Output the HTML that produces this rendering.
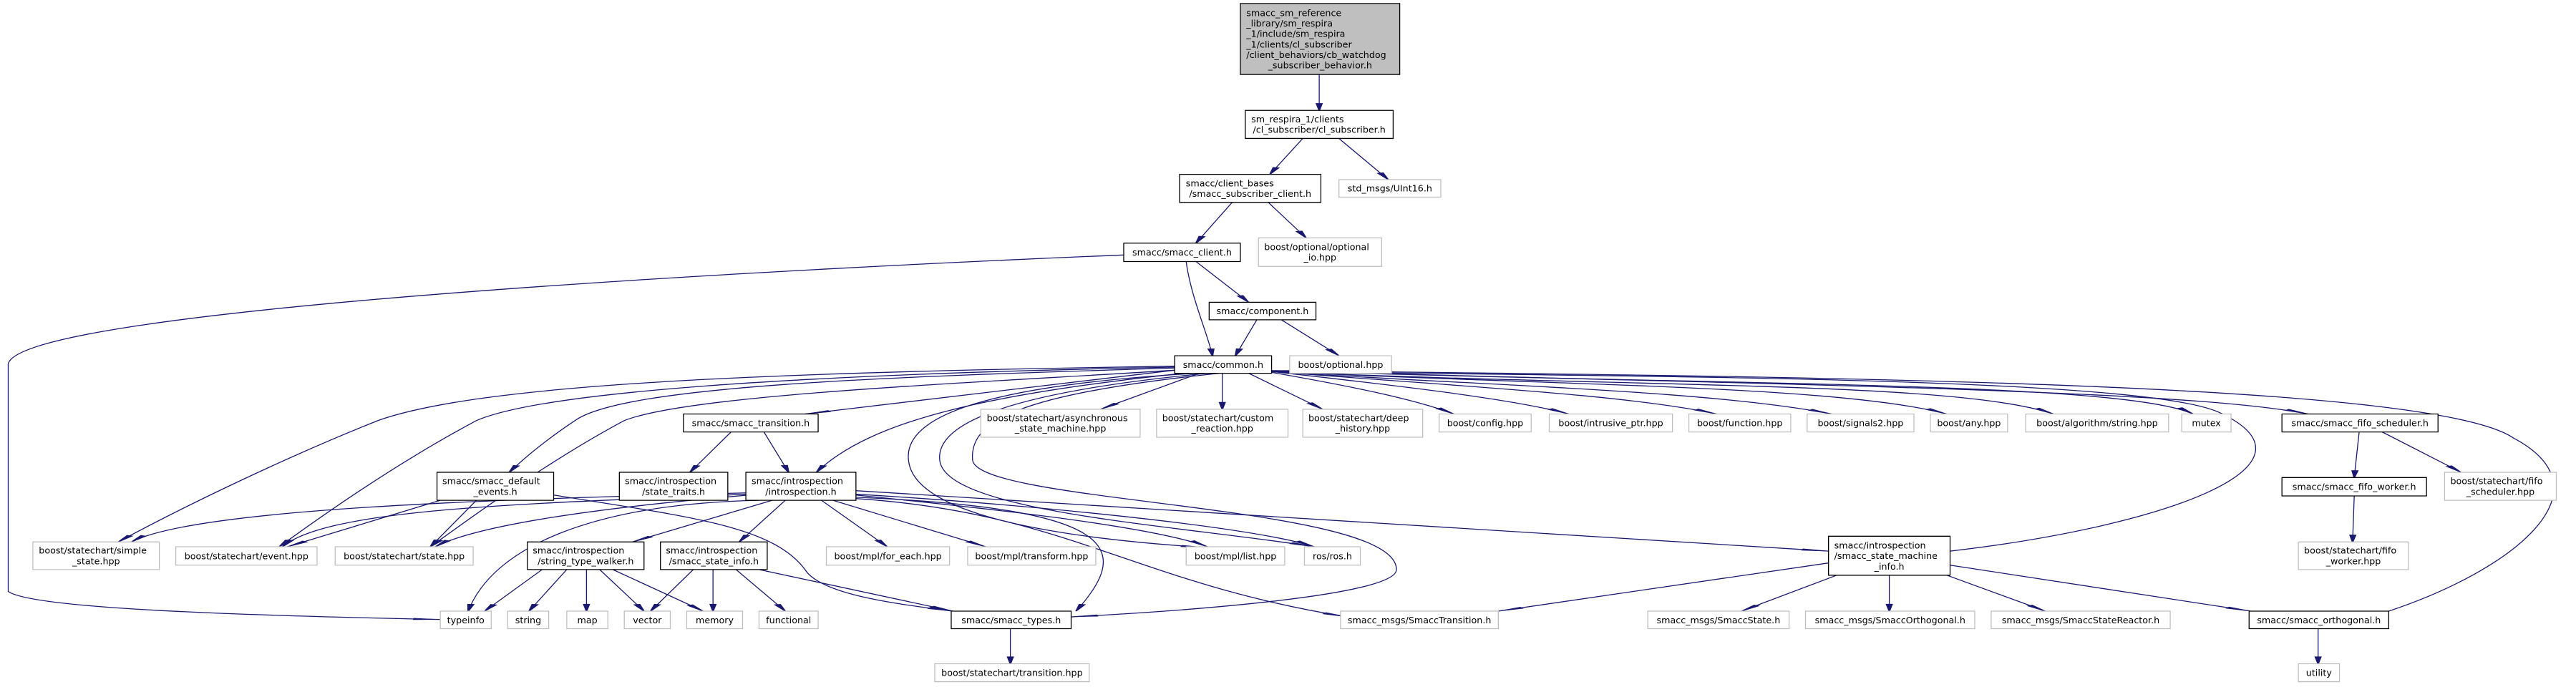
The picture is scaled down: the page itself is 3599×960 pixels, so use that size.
<!DOCTYPE html>
<html><head><meta charset="utf-8"><style>
html,body{margin:0;padding:0;background:#fff;width:3599px;height:960px;overflow:hidden}
svg{display:block}
text{font-family:"DejaVu Sans","Liberation Sans",sans-serif;font-size:12.7px;fill:#000}
.b{fill:#fff;stroke:#000;stroke-width:1.3}
.g{fill:#fff;stroke:#bfbfbf;stroke-width:1.3}
.t{fill:#bfbfbf;stroke:#000;stroke-width:1.3}
.e{fill:none;stroke:#191970;stroke-width:1.3;marker-end:url(#a)}
rect,path{vector-effect:non-scaling-stroke}
</style></head><body>
<svg width="3599" height="960" viewBox="0 0 3599 960" xmlns="http://www.w3.org/2000/svg">
<defs><marker id="a" markerUnits="userSpaceOnUse" markerWidth="20" markerHeight="6" viewBox="0 -3 17 6" refX="16" refY="0" orient="auto" overflow="visible"><path d="M0,-1.7 L16,0 L0,1.7 z" fill="#191970" stroke="#191970"/></marker></defs>
<g transform="scale(2.2953,0.6122)">
<!-- edges -->
<path class="e" d="M803,170 L803,252"/>
<path class="e" d="M793,316 L773,398"/>
<path class="e" d="M815,316 L845,410"/>
<path class="e" d="M750,462 L728,555"/>
<path class="e" d="M772,462 L795,543"/>
<path class="e" d="M684,582 C500,610 15,700 5,830 L5,1350 C20,1390 150,1405 268,1414"/>
<path class="e" d="M722,597 C725,680 735,760 738,812"/>
<path class="e" d="M728,597 L760,690"/>
<path class="e" d="M765,730 L752,812"/>
<path class="e" d="M780,730 L815,812"/>
<path class="e" d="M715,836 C450,850 290,880 230,960 C170,1050 110,1160 72,1237"/>
<path class="e" d="M715,838 C480,855 330,895 290,960 C240,1060 195,1180 170,1248"/>
<path class="e" d="M715,840 C540,860 380,880 350,960 C330,1010 318,1050 310,1078"/>
<path class="e" d="M715,845 C590,875 420,900 380,960 C330,1060 280,1200 262,1248"/>
<path class="e" d="M715,845 L490,945"/>
<path class="e" d="M720,852 C600,900 530,960 497,1078"/>
<path class="e" d="M728,852 C600,880 550,950 553,1050 C556,1180 650,1230 735,1250"/>
<path class="e" d="M735,852 C600,900 570,980 572,1050 C575,1170 720,1200 800,1248"/>
<path class="e" d="M742,852 C620,900 590,960 592,1050 C595,1150 850,1150 850,1300 C850,1360 720,1395 652,1408"/>
<path class="e" d="M730,852 L670,934"/>
<path class="e" d="M744,852 L744,934"/>
<path class="e" d="M760,852 L805,934"/>
<path class="e" d="M774,850 C820,880 860,910 885,945"/>
<path class="e" d="M774,848 C850,880 920,910 955,945"/>
<path class="e" d="M774,848 C880,880 990,900 1045,945"/>
<path class="e" d="M774,848 C900,880 1040,890 1115,945"/>
<path class="e" d="M774,848 C950,880 1120,880 1185,945"/>
<path class="e" d="M774,848 C1000,885 1190,870 1250,945"/>
<path class="e" d="M774,846 C1050,880 1290,870 1335,945"/>
<path class="e" d="M774,846 C1100,880 1330,890 1405,945"/>
<path class="e" d="M1187,1258 C1320,1200 1420,1060 1350,940 C1300,860 1000,860 776,848"/>
<path class="e" d="M1454,1395 C1530,1300 1590,1120 1530,1000 C1480,870 1100,860 776,846"/>
<path class="e" d="M1436,986 L1433,1090"/>
<path class="e" d="M1450,986 L1498,1078"/>
<path class="e" d="M1433,1132 L1432,1237"/>
<path class="e" d="M1411,1435 L1411,1515"/>
<path class="e" d="M615,1435 L615,1515"/>
<path class="e" d="M445,986 L420,1078"/>
<path class="e" d="M465,986 L480,1078"/>
<path class="e" d="M454,1125 C300,1140 120,1160 80,1237"/>
<path class="e" d="M454,1128 C320,1150 200,1160 172,1248"/>
<path class="e" d="M456,1130 C360,1160 290,1200 265,1248"/>
<path class="e" d="M462,1142 C360,1150 300,1250 285,1395"/>
<path class="e" d="M470,1142 L385,1237"/>
<path class="e" d="M478,1142 L450,1237"/>
<path class="e" d="M500,1142 L540,1248"/>
<path class="e" d="M507,1142 L600,1248"/>
<path class="e" d="M521,1130 C600,1160 700,1200 735,1248"/>
<path class="e" d="M521,1128 C620,1150 760,1200 800,1248"/>
<path class="e" d="M521,1135 C680,1160 690,1250 655,1395"/>
<path class="e" d="M521,1138 C650,1170 690,1330 820,1408"/>
<path class="e" d="M521,1120 L1113,1258"/>
<path class="e" d="M268,1142 L175,1248"/>
<path class="e" d="M290,1142 L262,1248"/>
<path class="e" d="M337,1130 C420,1180 470,1200 490,1300 C500,1360 550,1380 580,1395"/>
<path class="e" d="M1113,1285 L912,1395"/>
<path class="e" d="M1118,1313 L1060,1395"/>
<path class="e" d="M1150,1313 L1150,1395"/>
<path class="e" d="M1185,1313 L1245,1395"/>
<path class="e" d="M1187,1290 L1370,1395"/>
<path class="e" d="M330,1300 L295,1395"/>
<path class="e" d="M345,1300 L322,1395"/>
<path class="e" d="M357,1300 L357,1395"/>
<path class="e" d="M365,1300 L392,1395"/>
<path class="e" d="M373,1300 L428,1395"/>
<path class="e" d="M422,1300 L396,1395"/>
<path class="e" d="M434,1300 L434,1395"/>
<path class="e" d="M448,1300 L478,1395"/>
<path class="e" d="M462,1300 L580,1395"/>
<!-- nodes -->
<rect class="t" x="755" y="8" width="97" height="162"/>
<rect class="b" x="758" y="252" width="90" height="64"/>
<rect class="b" x="718" y="398" width="86" height="64"/>
<rect class="g" x="815" y="410" width="62" height="40"/>
<rect class="b" x="684" y="555" width="71" height="42"/>
<rect class="g" x="766" y="543" width="75" height="65"/>
<rect class="b" x="736" y="690" width="65" height="40"/>
<rect class="b" x="715" y="812" width="59" height="40"/>
<rect class="g" x="785" y="812" width="62" height="40"/>
<rect class="b" x="416" y="945" width="82" height="41"/>
<rect class="g" x="597" y="934" width="97" height="64"/>
<rect class="g" x="704" y="934" width="80" height="64"/>
<rect class="g" x="793" y="934" width="73" height="64"/>
<rect class="g" x="876" y="945" width="56" height="41"/>
<rect class="g" x="943" y="945" width="75" height="41"/>
<rect class="g" x="1028" y="945" width="62" height="41"/>
<rect class="g" x="1100" y="945" width="65" height="41"/>
<rect class="g" x="1175" y="945" width="47" height="41"/>
<rect class="g" x="1233" y="945" width="87" height="41"/>
<rect class="g" x="1328" y="945" width="30" height="41"/>
<rect class="b" x="1389" y="945" width="95" height="41"/>
<rect class="b" x="266" y="1078" width="71" height="64"/>
<rect class="b" x="377" y="1078" width="66" height="64"/>
<rect class="b" x="454" y="1078" width="67" height="64"/>
<rect class="b" x="1389" y="1090" width="88" height="42"/>
<rect class="g" x="1488" y="1078" width="68" height="64"/>
<rect class="g" x="20" y="1237" width="77" height="63"/>
<rect class="g" x="107" y="1248" width="86" height="42"/>
<rect class="g" x="204" y="1248" width="84" height="42"/>
<rect class="b" x="321" y="1237" width="71" height="63"/>
<rect class="b" x="402" y="1237" width="65" height="63"/>
<rect class="g" x="503" y="1248" width="75" height="42"/>
<rect class="g" x="589" y="1248" width="78" height="42"/>
<rect class="g" x="722" y="1248" width="60" height="42"/>
<rect class="g" x="794" y="1248" width="34" height="42"/>
<rect class="b" x="1113" y="1224" width="74" height="89"/>
<rect class="g" x="1399" y="1237" width="67" height="63"/>
<rect class="g" x="268" y="1395" width="31" height="40"/>
<rect class="g" x="309" y="1395" width="25" height="40"/>
<rect class="g" x="345" y="1395" width="25" height="40"/>
<rect class="g" x="380" y="1395" width="28" height="40"/>
<rect class="g" x="418" y="1395" width="34" height="40"/>
<rect class="g" x="462" y="1395" width="36" height="40"/>
<rect class="b" x="579" y="1395" width="73" height="40"/>
<rect class="g" x="816" y="1395" width="96" height="40"/>
<rect class="g" x="1003" y="1395" width="86" height="40"/>
<rect class="g" x="1099" y="1395" width="103" height="40"/>
<rect class="g" x="1212" y="1395" width="109" height="40"/>
<rect class="b" x="1369" y="1395" width="85" height="40"/>
<rect class="g" x="569" y="1515" width="94" height="41"/>
<rect class="g" x="1399" y="1515" width="25" height="41"/>
<!-- labels -->
<g text-anchor="middle">
<g transform="translate(803.5,89) scale(.43567,1.6334)"><text text-anchor="start"><tspan x="-103" y="-32.25">smacc_sm_reference</tspan><tspan x="-103" y="-17.55">_library/sm_respira</tspan><tspan x="-103" y="-2.85">_1/include/sm_respira</tspan><tspan x="-103" y="11.85">_1/clients/cl_subscriber</tspan><tspan x="-103" y="26.55">/client_behaviors/cb_watchdog</tspan></text><text x="0" y="41.25">_subscriber_behavior.h</text></g>
<g transform="translate(803,284) scale(.43567,1.6334)"><text text-anchor="start" x="-95" y="-2.85">sm_respira_1/clients</text><text x="0" y="11.85">/cl_subscriber/cl_subscriber.h</text></g>
<g transform="translate(761,430) scale(.43567,1.6334)"><text text-anchor="start" x="-90" y="-2.85">smacc/client_bases</text><text x="0" y="11.85">/smacc_subscriber_client.h</text></g>
<g transform="translate(846,430) scale(.43567,1.6334)"><text y="4.5">std_msgs/UInt16.h</text></g>
<g transform="translate(719.5,576) scale(.43567,1.6334)"><text y="4.5">smacc/smacc_client.h</text></g>
<g transform="translate(803.5,575.5) scale(.43567,1.6334)"><text text-anchor="start" x="-78" y="-2.85">boost/optional/optional</text><text x="0" y="11.85">_io.hpp</text></g>
<g transform="translate(768.5,710) scale(.43567,1.6334)"><text y="4.5">smacc/component.h</text></g>
<g transform="translate(744.5,832) scale(.43567,1.6334)"><text y="4.5">smacc/common.h</text></g>
<g transform="translate(816,832) scale(.43567,1.6334)"><text y="4.5">boost/optional.hpp</text></g>
<g transform="translate(457,965.5) scale(.43567,1.6334)"><text y="4.5">smacc/smacc_transition.h</text></g>
<g transform="translate(645.5,966) scale(.43567,1.6334)"><text text-anchor="start" x="-103" y="-2.85">boost/statechart/asynchronous</text><text x="0" y="11.85">_state_machine.hpp</text></g>
<g transform="translate(744,966) scale(.43567,1.6334)"><text text-anchor="start" x="-84" y="-2.85">boost/statechart/custom</text><text x="0" y="11.85">_reaction.hpp</text></g>
<g transform="translate(829.5,966) scale(.43567,1.6334)"><text text-anchor="start" x="-76" y="-2.85">boost/statechart/deep</text><text x="0" y="11.85">_history.hpp</text></g>
<g transform="translate(904,965.5) scale(.43567,1.6334)"><text y="4.5">boost/config.hpp</text></g>
<g transform="translate(980.5,965.5) scale(.43567,1.6334)"><text y="4.5">boost/intrusive_ptr.hpp</text></g>
<g transform="translate(1059,965.5) scale(.43567,1.6334)"><text y="4.5">boost/function.hpp</text></g>
<g transform="translate(1132.5,965.5) scale(.43567,1.6334)"><text y="4.5">boost/signals2.hpp</text></g>
<g transform="translate(1198.5,965.5) scale(.43567,1.6334)"><text y="4.5">boost/any.hpp</text></g>
<g transform="translate(1276.5,965.5) scale(.43567,1.6334)"><text y="4.5">boost/algorithm/string.hpp</text></g>
<g transform="translate(1343,965.5) scale(.43567,1.6334)"><text y="4.5">mutex</text></g>
<g transform="translate(1436.5,965.5) scale(.43567,1.6334)"><text y="4.5">smacc/smacc_fifo_scheduler.h</text></g>
<g transform="translate(301.5,1110) scale(.43567,1.6334)"><text text-anchor="start" x="-74" y="-2.85">smacc/smacc_default</text><text x="0" y="11.85">_events.h</text></g>
<g transform="translate(410,1110) scale(.43567,1.6334)"><text text-anchor="start" x="-68" y="-2.85">smacc/introspection</text><text x="0" y="11.85">/state_traits.h</text></g>
<g transform="translate(487.5,1110) scale(.43567,1.6334)"><text text-anchor="start" x="-69" y="-2.85">smacc/introspection</text><text x="0" y="11.85">/introspection.h</text></g>
<g transform="translate(1433,1111) scale(.43567,1.6334)"><text y="4.5">smacc/smacc_fifo_worker.h</text></g>
<g transform="translate(1522,1110) scale(.43567,1.6334)"><text text-anchor="start" x="-70" y="-2.85">boost/statechart/fifo</text><text x="0" y="11.85">_scheduler.hpp</text></g>
<g transform="translate(58.5,1268.5) scale(.43567,1.6334)"><text text-anchor="start" x="-80" y="-2.85">boost/statechart/simple</text><text x="0" y="11.85">_state.hpp</text></g>
<g transform="translate(150,1269) scale(.43567,1.6334)"><text y="4.5">boost/statechart/event.hpp</text></g>
<g transform="translate(246,1269) scale(.43567,1.6334)"><text y="4.5">boost/statechart/state.hpp</text></g>
<g transform="translate(356.5,1268.5) scale(.43567,1.6334)"><text text-anchor="start" x="-74" y="-2.85">smacc/introspection</text><text x="0" y="11.85">/string_type_walker.h</text></g>
<g transform="translate(434.5,1268.5) scale(.43567,1.6334)"><text text-anchor="start" x="-67" y="-2.85">smacc/introspection</text><text x="0" y="11.85">/smacc_state_info.h</text></g>
<g transform="translate(540.5,1269) scale(.43567,1.6334)"><text y="4.5">boost/mpl/for_each.hpp</text></g>
<g transform="translate(628,1269) scale(.43567,1.6334)"><text y="4.5">boost/mpl/transform.hpp</text></g>
<g transform="translate(752,1269) scale(.43567,1.6334)"><text y="4.5">boost/mpl/list.hpp</text></g>
<g transform="translate(811,1269) scale(.43567,1.6334)"><text y="4.5">ros/ros.h</text></g>
<g transform="translate(1150,1268.5) scale(.43567,1.6334)"><text text-anchor="start"><tspan x="-77" y="-10.2">smacc/introspection</tspan><tspan x="-77" y="4.5">/smacc_state_machine</tspan></text><text x="0" y="19.2">_info.h</text></g>
<g transform="translate(1432.5,1268.5) scale(.43567,1.6334)"><text text-anchor="start" x="-69" y="-2.85">boost/statechart/fifo</text><text x="0" y="11.85">_worker.hpp</text></g>
<g transform="translate(283.5,1415) scale(.43567,1.6334)"><text y="4.5">typeinfo</text></g>
<g transform="translate(321.5,1415) scale(.43567,1.6334)"><text y="4.5">string</text></g>
<g transform="translate(357.5,1415) scale(.43567,1.6334)"><text y="4.5">map</text></g>
<g transform="translate(394,1415) scale(.43567,1.6334)"><text y="4.5">vector</text></g>
<g transform="translate(435,1415) scale(.43567,1.6334)"><text y="4.5">memory</text></g>
<g transform="translate(480,1415) scale(.43567,1.6334)"><text y="4.5">functional</text></g>
<g transform="translate(615.5,1415) scale(.43567,1.6334)"><text y="4.5">smacc/smacc_types.h</text></g>
<g transform="translate(864,1415) scale(.43567,1.6334)"><text y="4.5">smacc_msgs/SmaccTransition.h</text></g>
<g transform="translate(1046,1415) scale(.43567,1.6334)"><text y="4.5">smacc_msgs/SmaccState.h</text></g>
<g transform="translate(1150.5,1415) scale(.43567,1.6334)"><text y="4.5">smacc_msgs/SmaccOrthogonal.h</text></g>
<g transform="translate(1266.5,1415) scale(.43567,1.6334)"><text y="4.5">smacc_msgs/SmaccStateReactor.h</text></g>
<g transform="translate(1411.5,1415) scale(.43567,1.6334)"><text y="4.5">smacc/smacc_orthogonal.h</text></g>
<g transform="translate(616,1535.5) scale(.43567,1.6334)"><text y="4.5">boost/statechart/transition.hpp</text></g>
<g transform="translate(1411.5,1535.5) scale(.43567,1.6334)"><text y="4.5">utility</text></g>
</g>
</g>
</svg>
</body></html>
